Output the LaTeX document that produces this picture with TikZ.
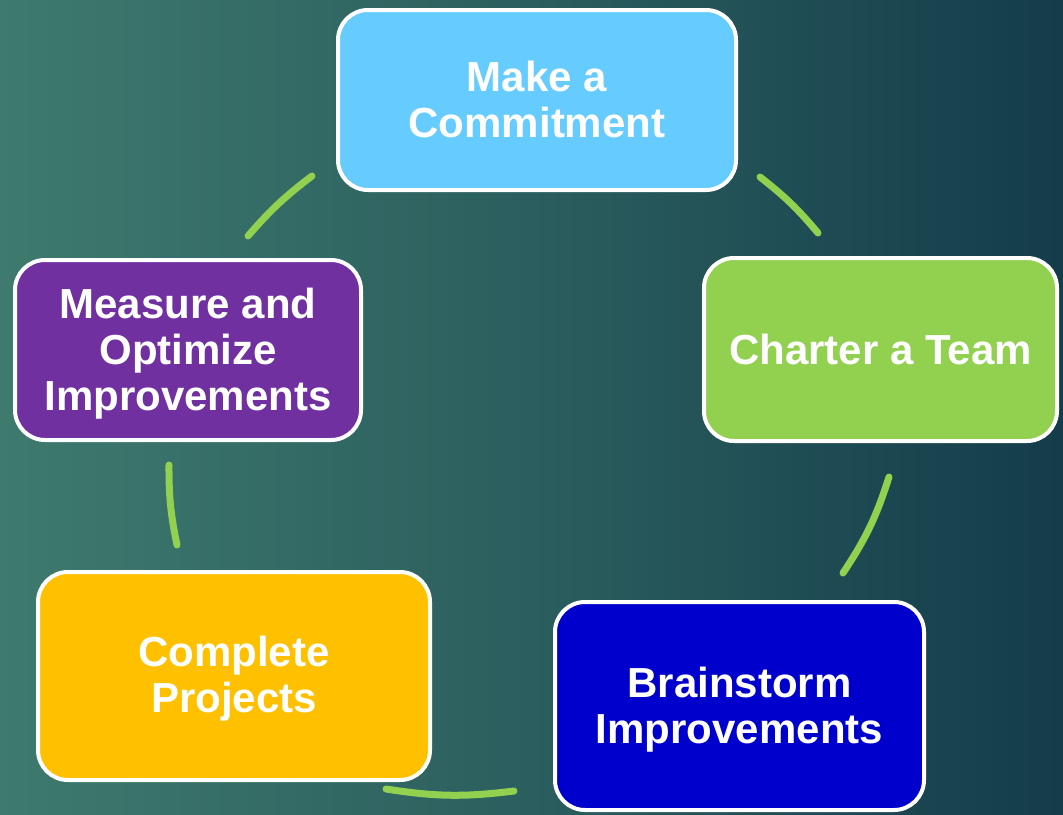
\documentclass[tikz,border=0pt]{standalone}
\usepackage{fontspec}
\setmainfont{Liberation Sans}
\usetikzlibrary{calc}
\definecolor{bgleft}{HTML}{3E7A6E}
\definecolor{bgmid}{HTML}{2B5E5E}
\definecolor{bgright}{HTML}{143C4B}
\definecolor{linkgreen}{HTML}{92D050}
\definecolor{cskyblue}{HTML}{66CCFF}
\definecolor{cgreen}{HTML}{92D050}
\definecolor{cblue}{HTML}{0000CC}
\definecolor{cyellow}{HTML}{FFC000}
\definecolor{cpurple}{HTML}{7030A0}
\begin{document}
\begin{tikzpicture}[x=1pt,y=-1pt,
  stage/.style={draw=white, line width=4pt, rounded corners=30pt, inner sep=0pt},
  stagetext/.style={text=white, align=center, inner sep=0pt,
    font=\fontsize{42}{46}\selectfont\bfseries},
  link/.style={draw=linkgreen, line width=7pt, line cap=round}]
  % background
  \useasboundingbox (0,0) rectangle (1063,814);
  \shade[left color=bgleft, right color=bgright, middle color=bgmid] (0,0) rectangle (1063,814);

  % the five stages of the cycle
  \node[stage, fill=cskyblue, minimum width=398pt, minimum height=180pt,
    label={[stagetext, yshift=0.5pt]center:Make a\\Commitment}] (make) at (537,100) {};
  \node[stage, fill=cgreen, minimum width=353pt, minimum height=183pt,
    label={[stagetext, yshift=0.5pt]center:Charter a Team}] (charter) at (880.5,349.5) {};
  \node[stage, fill=cblue, minimum width=369pt, minimum height=208pt,
    label={[stagetext, yshift=-4pt]center:Brainstorm\\Improvements}] (brain) at (739.5,706) {};
  \node[stage, fill=cyellow, minimum width=392pt, minimum height=208pt,
    label={[stagetext, yshift=-3pt]center:Complete\\Projects}] (complete) at (234,676) {};
  \node[stage, fill=cpurple, minimum width=346pt, minimum height=180pt,
    label={[stagetext, yshift=-4pt]center:Measure and\\Optimize\\Improvements}] (measure) at (188,350) {};

  % arc ends between neighbouring stages
  \coordinate (a1) at (248,236);  \coordinate (b1) at (312,176);
  \coordinate (a2) at (760,177);  \coordinate (b2) at (818,233);
  \coordinate (a3) at (889,477);  \coordinate (b3) at (843,573);
  \coordinate (a4) at (514,791);  \coordinate (b4) at (386,789);
  \coordinate (a5) at (177,545);  \coordinate (b5) at (169,465);

  \draw[link] (a1) to[bend left=6] (b1);
  \draw[link] (a2) to[bend left=6] (b2);
  \draw[link] (a3) to[bend left=8] (b3);
  \draw[link] (a4) to[bend left=8] (b4);
  \draw[link] (a5) to[bend left=6] (b5);
\end{tikzpicture}
\end{document}
